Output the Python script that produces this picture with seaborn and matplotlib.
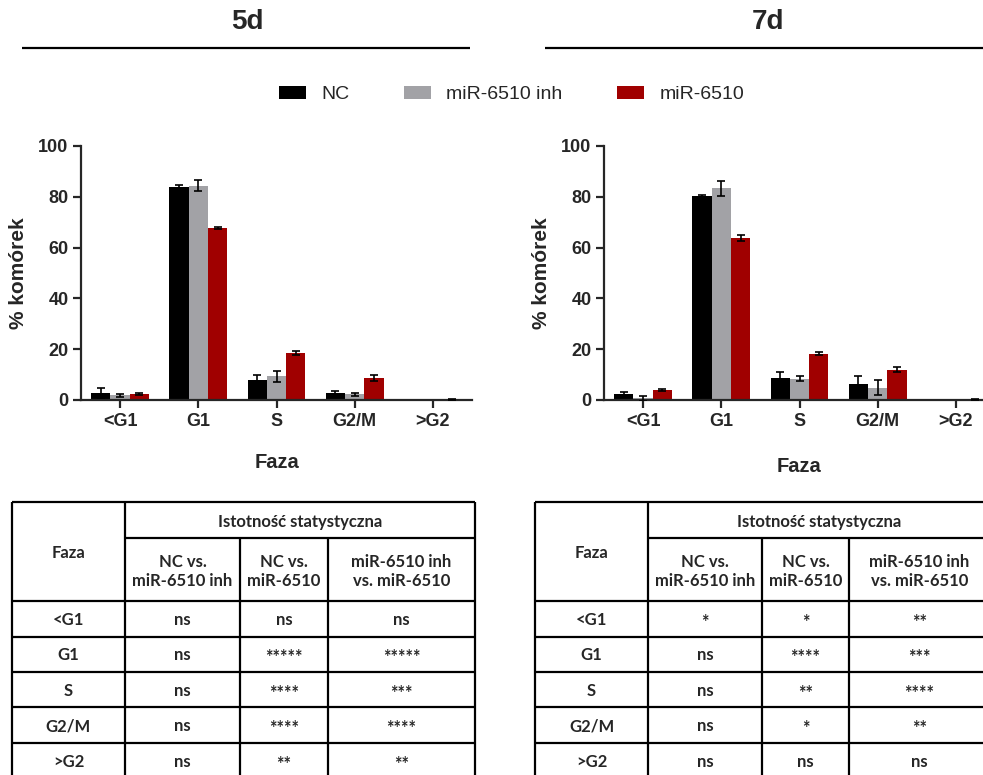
import numpy as np
import pandas as pd
import matplotlib
matplotlib.use("Agg")
import matplotlib.pyplot as plt
from matplotlib.patches import Patch
import seaborn as sns

# ---- data -------------------------------------------------------------
phases = ["<G1", "G1", "S", "G2/M", ">G2"]
groups = ["NC", "miR-6510 inh", "miR-6510"]
colors = ["#000000", "#a2a2a6", "#a00000"]

# 5 days (% of cells, mean and error)
d5_nc = [2.7, 84.0, 8.0, 2.9, 0.0]
d5_nc_err = [2.0, 0.8, 1.8, 0.6, 0.0]
d5_inh = [1.8, 84.4, 9.3, 2.2, 0.0]
d5_inh_err = [0.7, 2.2, 2.2, 0.6, 0.0]
d5_mir = [2.4, 67.8, 18.6, 8.7, 0.2]
d5_mir_err = [0.3, 0.5, 0.8, 1.3, 0.1]

# 7 days
d7_nc = [2.2, 80.3, 8.6, 6.3, 0.1]
d7_nc_err = [0.8, 0.3, 2.5, 3.3, 0.0]
d7_inh = [0.7, 83.4, 8.4, 4.9, 0.1]
d7_inh_err = [1.0, 2.9, 0.9, 2.8, 0.0]
d7_mir = [3.8, 63.8, 18.3, 11.9, 0.2]
d7_mir_err = [0.4, 1.3, 0.5, 1.0, 0.1]

# significance tables
comparisons = ["NC vs.\nmiR-6510 inh", "NC vs.\nmiR-6510", "miR-6510 inh\nvs. miR-6510"]
d5_sig = [["ns", "ns", "ns"],
          ["ns", "*****", "*****"],
          ["ns", "****", "***"],
          ["ns", "****", "****"],
          ["ns", "**", "**"]]
d7_sig = [["*", "*", "**"],
          ["ns", "****", "***"],
          ["ns", "**", "****"],
          ["ns", "*", "**"],
          ["ns", "ns", "ns"]]

# ---- style ------------------------------------------------------------
sns.set_style("ticks")
plt.rcParams["font.family"] = ["Liberation Sans", "DejaVu Sans"]
TABLE_FONT = ["Lato", "DejaVu Sans"]

W, H = 983, 775
fig = plt.figure(figsize=(W / 100, H / 100), dpi=100)

# overlay axes in pixel coordinates for headings, rules and tables
ov = fig.add_axes([0, 0, 1, 1], zorder=-1)
ov.set_xlim(0, W)
ov.set_ylim(H, 0)
ov.axis("off")


def draw_panel(rect, nc, nc_err, inh, inh_err, mir, mir_err, xlabel_y):
    ax = fig.add_axes(rect)
    ax.set_facecolor("none")
    df = pd.DataFrame({
        "Faza": phases * 3,
        "grupa": [g for g in groups for _ in phases],
        "val": nc + inh + mir,
    })
    sns.barplot(data=df, x="Faza", y="val", hue="grupa", order=phases,
                hue_order=groups, palette=colors, saturation=1, width=0.74,
                errorbar=None, linewidth=0, legend=False, ax=ax)
    for cont, err in zip(ax.containers, [nc_err, inh_err, mir_err]):
        xs = np.array([p.get_x() + p.get_width() / 2 for p in cont])
        ys = np.array([p.get_height() for p in cont])
        e = np.array(err)
        m = e > 0
        ax.errorbar(xs[m], ys[m], yerr=e[m], fmt="none", ecolor="black",
                    elinewidth=1.2, capsize=3, capthick=1.2, zorder=5)
    ax.set_xlim(-0.5, 4.5)
    ax.set_ylim(0, 100)
    ax.set_yticks([0, 20, 40, 60, 80, 100])
    sns.despine(ax=ax)
    for s in ("left", "bottom"):
        ax.spines[s].set_linewidth(1.6)
    ax.tick_params(axis="both", width=1.6, length=6, labelsize=13, pad=3)
    for lab in ax.get_xticklabels() + ax.get_yticklabels():
        lab.set_fontweight("bold")
    ax.set_ylabel("% komórek", fontsize=15, fontweight="bold")
    ax.set_xlabel("Faza", fontsize=14.5, fontweight="bold")
    ax.yaxis.set_label_coords(-0.135, 0.5)
    ax.xaxis.set_label_coords(0.5, xlabel_y)
    return ax


draw_panel([81 / W, 375 / H, 391 / W, 254 / H],
           d5_nc, d5_nc_err, d5_inh, d5_inh_err, d5_mir, d5_mir_err, -0.21)
draw_panel([604 / W, 375 / H, 391 / W, 254 / H],
           d7_nc, d7_nc_err, d7_inh, d7_inh_err, d7_mir, d7_mir_err, -0.225)

# headings with rules
ov.text(247.5, 22, "5d", fontsize=20, fontweight="bold", ha="center", va="center")
ov.text(768, 22, "7d", fontsize=20, fontweight="bold", ha="center", va="center")
ov.plot([22, 470], [48, 48], color="black", lw=1.6, solid_capstyle="butt")
ov.plot([545, 990], [48, 48], color="black", lw=1.6, solid_capstyle="butt")

# shared legend
handles = [Patch(facecolor=c, edgecolor="none") for c in colors]
fig.legend(handles, groups, loc="center", bbox_to_anchor=(511.5 / W, 1 - 94.5 / H),
           ncol=3, frameon=False, fontsize=14, handlelength=1.39,
           handleheight=0.67, handletextpad=0.8, columnspacing=2.8)


def draw_table(x0, cols, sig):
    # cols: x positions of the column borders after the first
    x1, x2, x3, x4 = cols
    top, sub, body = 502, 538, 601
    rows = [601, 637, 672, 707, 743, 779]
    bottom = 790
    kw = dict(color="black", lw=1.6, solid_capstyle="butt", clip_on=False)
    ov.plot([x0, x4], [top, top], **kw)
    ov.plot([x1, x4], [sub, sub], **kw)
    for y in rows[:-1]:
        ov.plot([x0, x4], [y, y], **kw)
    ov.plot([x0, x0], [top, bottom], **kw)
    ov.plot([x1, x1], [top, bottom], **kw)
    ov.plot([x2, x2], [sub, bottom], **kw)
    ov.plot([x3, x3], [sub, bottom], **kw)
    ov.plot([x4, x4], [top, bottom], **kw)
    tk = dict(family=TABLE_FONT, fontsize=12, fontweight="bold",
              ha="center", va="center", linespacing=1.3)
    ov.text((x0 + x1) / 2, (top + body) / 2 + 1, "Faza", **tk)
    ov.text((x1 + x4) / 2, (top + sub) / 2 + 1.5, "Istotność statystyczna", **tk)
    centers = [(x1 + x2) / 2, (x2 + x3) / 2, (x3 + x4) / 2]
    for cx, lab in zip(centers, comparisons):
        ov.text(cx, (sub + body) / 2 + 2, lab, **tk)
    for i, ph in enumerate(phases):
        cy = (rows[i] + rows[i + 1]) / 2
        ov.text((x0 + x1) / 2, cy + 1, ph, **tk)
        for cx, s in zip(centers, sig[i]):
            if "*" in s:
                ov.text(cx, cy + 3.5, s, **{**tk, "fontsize": 13})
            else:
                ov.text(cx, cy + 1, s, **tk)


draw_table(12, (125, 240, 328, 475), d5_sig)
draw_table(535, (648, 762, 849, 990), d7_sig)

fig.savefig("out.png", dpi=100)
